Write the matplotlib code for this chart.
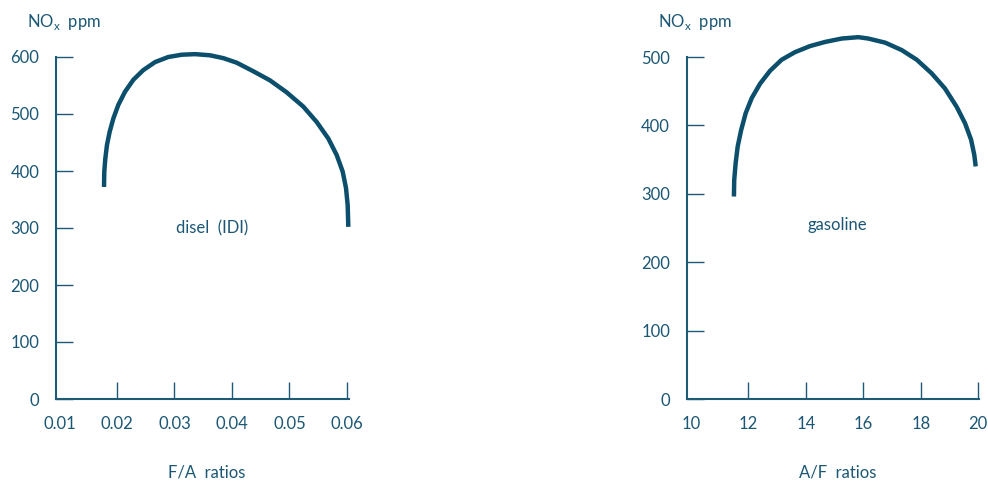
#!/usr/bin/env python3
"""
NOx emissions against mixture ratio: diesel (IDI) and gasoline engines
"""

import matplotlib
matplotlib.use('Agg')
import matplotlib.pyplot as plt

plt.rcParams['font.family'] = ['Lato', 'DejaVu Sans']
plt.rcParams['mathtext.fontset'] = 'custom'
plt.rcParams['mathtext.rm'] = 'Lato'

# Diesel (IDI): NOx ppm vs fuel/air ratio
diesel_fa = [0.01774, 0.01779, 0.01797, 0.01826, 0.01873, 0.01936, 0.02023,
             0.02139, 0.02284, 0.02457, 0.02661, 0.02892, 0.03125, 0.03357,
             0.03617, 0.03849, 0.04082, 0.04370, 0.04661, 0.04951, 0.05240,
             0.05473, 0.05675, 0.05821, 0.05925, 0.05983, 0.06012, 0.06023]
diesel_nox = [372, 399, 422, 446, 469, 492, 516,
              539, 560, 577, 591, 600, 604, 605,
              603, 598, 590, 575, 559, 538, 513,
              486, 457, 428, 399, 370, 340, 302]

# Gasoline: NOx ppm vs air/fuel ratio
gas_af = [11.50, 11.51, 11.56, 11.63, 11.75, 11.91, 12.12, 12.41, 12.76,
          13.16, 13.62, 14.15, 14.67, 15.25, 15.83, 16.17, 16.76, 17.34,
          17.86, 18.38, 18.84, 19.25, 19.54, 19.75, 19.86, 19.91]
gas_nox = [296, 320, 345, 369, 393, 418, 440, 461, 480,
           496, 507, 516, 522, 527, 529, 527, 521, 510,
           496, 476, 454, 427, 403, 379, 357, 340]

diesel_xticks = [0.01, 0.02, 0.03, 0.04, 0.05, 0.06]
diesel_yticks = [0, 100, 200, 300, 400, 500, 600]
gas_xticks = [10, 12, 14, 16, 18, 20]
gas_yticks = [0, 100, 200, 300, 400, 500]

W, H = 988, 482
line_c = '#0b4f6c'
axis_c = '#1d5a76'
text_c = '#1b5775'
fs = 12

fig = plt.figure(figsize=(W / 100, H / 100), dpi=100)


def px_box(x0, x1, y_top, y_bot):
    return [x0 / W, (H - y_bot) / H, (x1 - x0) / W, (y_bot - y_top) / H]


def style_axes(ax, xticks, yticks, xlabels):
    for side in ['top', 'right']:
        ax.spines[side].set_visible(False)
    for side in ['left', 'bottom']:
        ax.spines[side].set_color(axis_c)
        ax.spines[side].set_linewidth(1.5)
    ax.set_xticks(xticks)
    ax.set_xticklabels(xlabels)
    ax.set_yticks(yticks)
    ax.tick_params(direction='in', length=12.5, width=1.0, color=axis_c,
                   labelcolor=text_c, labelsize=fs)
    ax.tick_params(axis='y', pad=12)
    ax.tick_params(axis='x', pad=12.5)
    # first x tick sits on the y axis, only its label is shown
    ax.xaxis.get_major_ticks()[0].tick1line.set_visible(False)
    ax.set_facecolor('none')


# Left panel: diesel
ax1 = fig.add_axes(px_box(56, 349, 57, 399))
ax1.plot(diesel_fa, diesel_nox, color=line_c, lw=3.2, clip_on=False,
         solid_capstyle='butt', solid_joinstyle='round')
ax1.set_xlim(0.00939, 0.06035)
ax1.set_ylim(0, 600)
style_axes(ax1, diesel_xticks, diesel_yticks,
           ['0.01', '0.02', '0.03', '0.04', '0.05', '0.06'])
ax1.text(0.0366, 300, 'disel  (IDI)', color=text_c, fontsize=fs,
         ha='center', va='center')

# Right panel: gasoline
ax2 = fig.add_axes(px_box(686.7, 979.3, 57, 399))
ax2.plot(gas_af, gas_nox, color=line_c, lw=3.2, clip_on=False,
         solid_capstyle='butt', solid_joinstyle='round')
ax2.set_xlim(9.857, 20.035)
ax2.set_ylim(0, 500)
style_axes(ax2, gas_xticks, gas_yticks, [str(v) for v in gas_xticks])
ax2.text(15.1, 255, 'gasoline', color=text_c, fontsize=fs,
         ha='center', va='center')

# Axis titles
fig.text(64 / W, 1 - 22 / H, r'NO$_\mathregular{x}$  ppm', color=text_c,
         fontsize=fs, ha='center', va='center')
fig.text(695 / W, 1 - 22 / H, r'NO$_\mathregular{x}$  ppm', color=text_c,
         fontsize=fs, ha='center', va='center')
fig.text(207 / W, 1 - 473 / H, 'F/A  ratios', color=text_c,
         fontsize=fs, ha='center', va='center')
fig.text(838 / W, 1 - 473 / H, 'A/F  ratios', color=text_c,
         fontsize=fs, ha='center', va='center')

fig.savefig('out.png', dpi=100)
